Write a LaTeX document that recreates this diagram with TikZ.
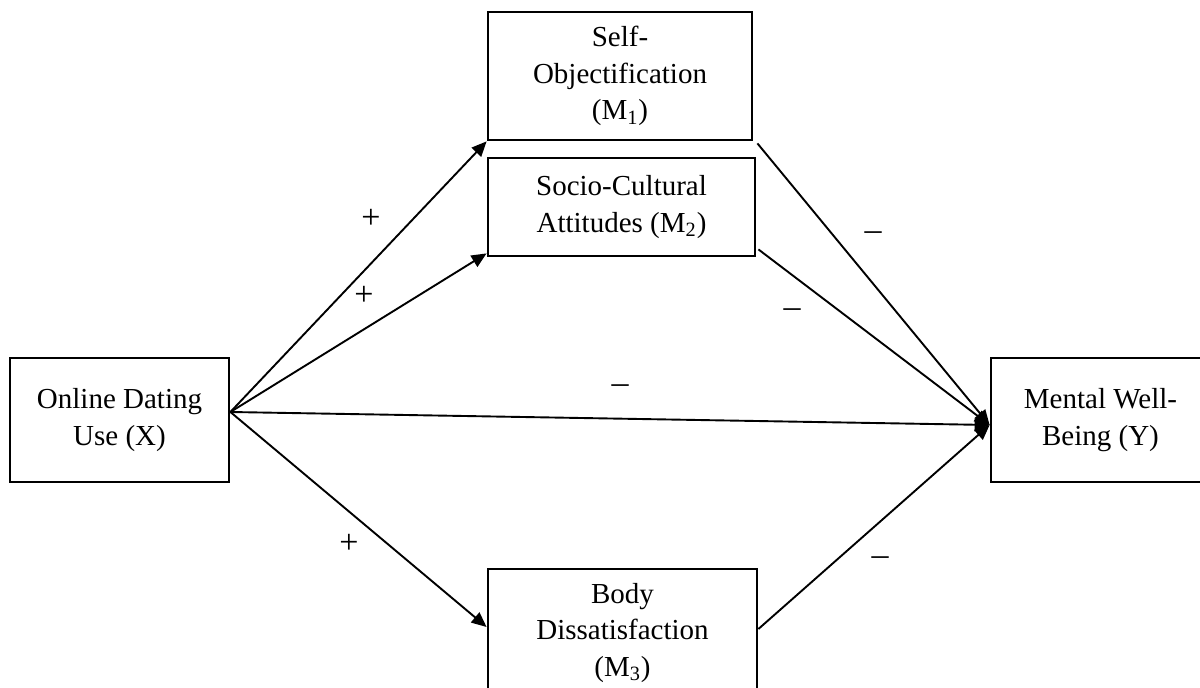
\documentclass[tikz,border=0pt]{standalone}
\usepackage{fontspec}
\setmainfont{Liberation Serif}
\usetikzlibrary{arrows.meta}

\tikzset{
  varbox/.style={draw, line width=1.4pt, align=center, inner sep=0pt,
    font=\fontsize{14.5pt}{18.3pt}\selectfont},
  link/.style={line width=0.95pt, -{Triangle[length=7.5pt,width=6.5pt]}},
  sign/.style={inner sep=0pt, font=\fontsize{17pt}{20pt}\selectfont}
}

\begin{document}
\begin{tikzpicture}[x=0.5pt,y=-0.5pt]
  \useasboundingbox (0,0) rectangle (1200,688);
  \clip (0,0) rectangle (1200,688);
  % variables of the mediation model
  \node[varbox, minimum width=109.5pt, minimum height=62pt] (x) at (119.5,420)
    {Online Dating\\Use (X)};
  \node[varbox, minimum width=132pt, minimum height=64pt] (m1) at (620,76)
    {Self-\\Objectification\\(M\textsubscript{1})};
  \node[varbox, minimum width=133.5pt, minimum height=49pt] (m2) at (621.5,207)
    {Socio-Cultural\\Attitudes (M\textsubscript{2})};
  \node[varbox, minimum width=134.5pt, minimum height=64pt] (m3) at (622.5,633)
    {Body\\Dissatisfaction\\(M\textsubscript{3})};
  \node[varbox, draw=none, outer sep=0pt, minimum width=109.5pt, minimum height=62pt] (y) at (1100.5,420)
    {Mental Well-\\Being (Y)};
  % box of Y runs off the right edge
  \draw[line width=1.4pt] ([xshift=10pt]y.north east) -- (y.north west)
    -- (y.south west) -- ([xshift=10pt]y.south east);
  \coordinate (xout) at ([yshift=4pt]x.east);
  \coordinate (yin) at ([xshift=-0.7pt,yshift=-2.5pt]y.west);
  % paths
  \draw[link] (xout) -- (m1.south west);
  \draw[link] (xout) -- ([yshift=2pt]m2.south west);
  \draw[link] (xout) -- ([yshift=3pt]m3.west);
  \draw[link] (xout) -- (yin);
  \draw[link] ([xshift=2pt,yshift=-1pt]m1.south east) -- (yin);
  \draw[link] ([xshift=1pt,yshift=4pt]m2.south east) -- (yin);
  \draw[link] ([yshift=2pt]m3.east) -- (yin);
  % signs
  \node[sign] (s1) at (371,219) {+};
  \node[sign] (s2) at (364,296) {+};
  \node[sign] (s3) at (349,544) {+};
  \node[sign] (s4) at (873,236) {--};
  \node[sign] (s5) at (792,313) {--};
  \node[sign] (s6) at (620,389) {--};
  \node[sign] (s7) at (880,561) {--};
\end{tikzpicture}
\end{document}
